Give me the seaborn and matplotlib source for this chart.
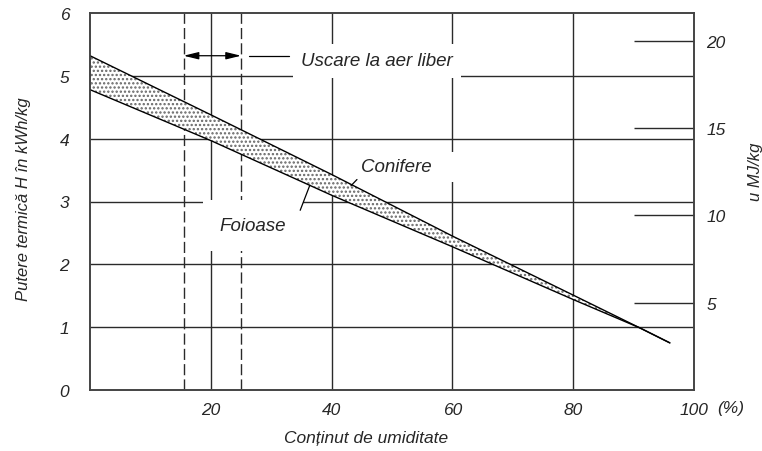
import numpy as np
import pandas as pd
import seaborn as sns
import matplotlib.pyplot as plt

# moisture content (%) and heating value H (kWh/kg) of the two bounding curves
moisture = [0, 20, 40, 60, 80, 91, 96]
conifere = [5.32, 4.38, 3.43, 2.45, 1.51, 0.99, 0.75]
foioase = [4.78, 3.97, 3.10, 2.28, 1.44, 0.99, 0.75]

x_ticks = [20, 40, 60, 80, 100]
y_ticks = [0, 1, 2, 3, 4, 5, 6]
mj_ticks = [5, 10, 15, 20]
air_dry = [15.5, 25]  # uscare la aer liber, range in %

sns.set_style("white")
plt.rcParams['font.family'] = ['Liberation Sans', 'DejaVu Sans']
plt.rcParams['font.style'] = 'italic'
plt.rcParams['hatch.linewidth'] = 1.1

df = pd.DataFrame({'moisture': moisture, 'conifere': conifere, 'foioase': foioase})

fig = plt.figure(figsize=(7.62, 4.52), dpi=100)
ax = fig.add_axes([90/762, 1-391/452, 604/762, 377/452])
ax.set_xlim(0, 100)
ax.set_ylim(0, 6)

gridc = '#2a2a2a'
for y in y_ticks[1:-1]:
    ax.axhline(y, color=gridc, lw=1.0, zorder=1)
for x in x_ticks[:-1]:
    ax.axvline(x, color=gridc, lw=1.0, zorder=1)
for x in air_dry:
    ax.axvline(x, color=gridc, lw=1.0, ls=(0, (8, 3)), zorder=1)

# stippled band
ax.fill_between(df['moisture'], df['foioase'], df['conifere'], facecolor='white',
                edgecolor='#666666', hatch='....', linewidth=0, zorder=2)
sns.lineplot(data=df, x='moisture', y='conifere', color='black', lw=1.0, ax=ax, zorder=3)
sns.lineplot(data=df, x='moisture', y='foioase', color='black', lw=1.0, ax=ax, zorder=3)

# air drying range arrow
ax.annotate('', xy=(air_dry[0], 5.32), xytext=(air_dry[1], 5.32),
            arrowprops=dict(arrowstyle='<|-|>,head_length=0.9,head_width=0.22',
                            color='black', lw=0.9, shrinkA=0, shrinkB=0), zorder=4)
ax.plot([26.3, 32.9], [5.32, 5.32], color='black', lw=0.9, zorder=4)

box = dict(boxstyle='square,pad=0.45', facecolor='white', edgecolor='none')
ax.text(47.5, 5.24, 'Uscare la aer liber', fontsize=13.5, ha='center', va='center',
        bbox=box, zorder=5)
ax.text(44.8, 3.55, 'Conifere    ', fontsize=13.5, ha='left', va='center',
        bbox=dict(boxstyle='square,pad=0.35', facecolor='white', edgecolor='none'), zorder=5)
ax.text(27.0, 2.62, 'Foioase', fontsize=13.5, ha='center', va='center',
        bbox=dict(boxstyle='square,pad=0.9', facecolor='white', edgecolor='none'), zorder=5)
ax.plot([44.2, 43.2], [3.35, 3.25], color='black', lw=0.9, zorder=6)
ax.plot([34.8, 36.4], [2.86, 3.26], color='black', lw=0.9, zorder=6)

ax.set_xticks(x_ticks)
ax.set_xticklabels([str(v) for v in x_ticks])
ax.set_yticks(y_ticks)
ax.tick_params(axis='x', length=0, labelsize=12.5, pad=9)
ax.tick_params(axis='y', length=0, labelsize=12.5, pad=15)
ax.text(1.038, -0.047, '(%)', transform=ax.transAxes, fontsize=12.5, ha='left', va='center')

ax.set_xlabel('Conținut de umiditate', fontsize=12.5)
ax.xaxis.set_label_coords(0.457, -0.105)
ax.set_ylabel('Putere termică H în kWh/kg', fontsize=12)
ax.yaxis.set_label_coords(-0.098, 0.51)

ax2 = ax.twinx()
ax2.set_ylim(0, 6*3.6)
ax2.set_yticks(mj_ticks)
ax2.tick_params(axis='y', direction='in', length=43, width=1.0, color=gridc,
                pad=9, labelsize=12.5)
fig.text(0.992, 0.62, 'u MJ/kg', rotation=90, fontsize=12, ha='center', va='center')

for a in (ax, ax2):
    for s in a.spines.values():
        s.set_color('#444444')
        s.set_linewidth(1.2)

fig.savefig('out.png', dpi=100)
